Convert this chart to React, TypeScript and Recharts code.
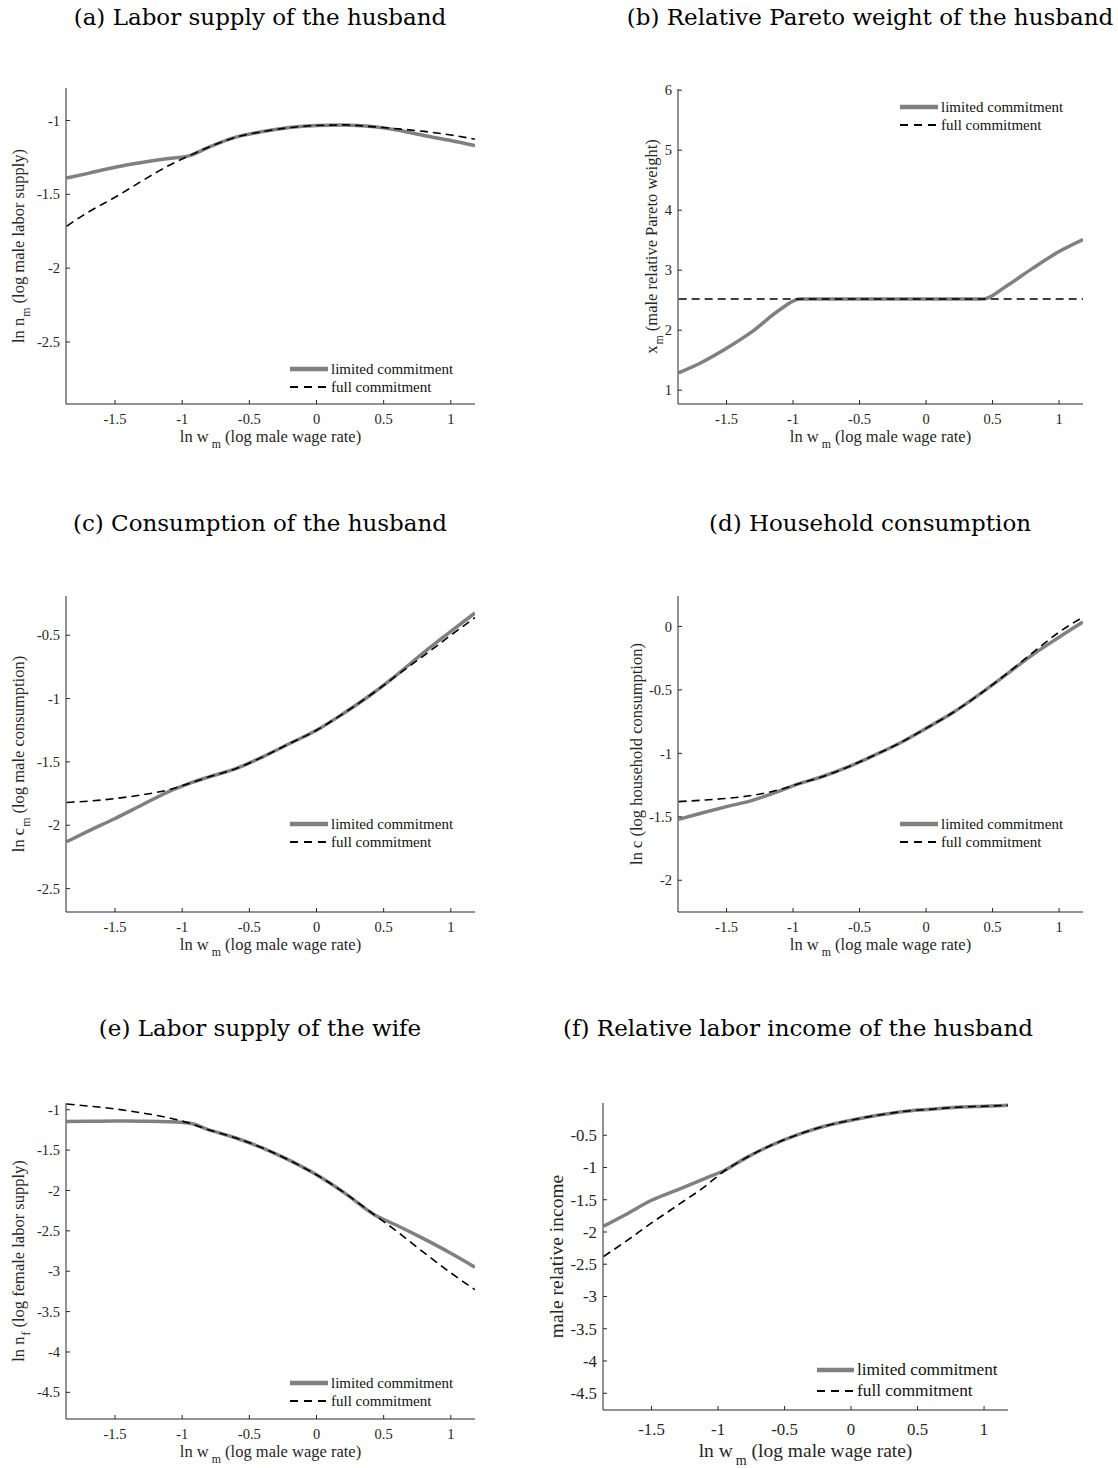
import React from 'react';
import { LineChart, Line, XAxis, YAxis, Legend, Label } from 'recharts';

// log male wage rate (shared x grid for every panel)
const wage = [-1.86, -1.7, -1.5, -1.3, -1.1, -0.95, -0.8, -0.6, -0.4, -0.2, 0, 0.2, 0.43, 0.6, 0.8, 1.0, 1.18];
const wageTicks = [-1.5, -1, -0.5, 0, 0.5, 1];

// (a) log male labor supply
const laborHusbandLimited = [-1.39, -1.358, -1.317, -1.285, -1.258, -1.24, -1.18, -1.113, -1.075, -1.048, -1.034, -1.03, -1.043, -1.065, -1.102, -1.136, -1.17];
const laborHusbandFull = [-1.716, -1.621, -1.52, -1.41, -1.305, -1.24, -1.18, -1.113, -1.075, -1.048, -1.034, -1.03, -1.043, -1.056, -1.074, -1.098, -1.127];

// (b) male relative Pareto weight
const paretoLimited = [1.29, 1.45, 1.7, 1.99, 2.34, 2.52, 2.52, 2.52, 2.52, 2.52, 2.52, 2.52, 2.52, 2.73, 3.03, 3.31, 3.51];
const paretoFull = [2.52, 2.52, 2.52, 2.52, 2.52, 2.52, 2.52, 2.52, 2.52, 2.52, 2.52, 2.52, 2.52, 2.52, 2.52, 2.52, 2.52];

// (c) log male consumption
const consHusbandLimited = [-2.13, -2.047, -1.947, -1.84, -1.734, -1.671, -1.618, -1.553, -1.46, -1.355, -1.25, -1.118, -0.95, -0.81, -0.635, -0.47, -0.324];
const consHusbandFull = [-1.82, -1.81, -1.789, -1.76, -1.72, -1.671, -1.618, -1.553, -1.46, -1.355, -1.25, -1.118, -0.95, -0.815, -0.66, -0.5, -0.36];

// (d) log household consumption
const consHouseholdLimited = [-1.52, -1.474, -1.42, -1.368, -1.295, -1.237, -1.19, -1.113, -1.02, -0.92, -0.803, -0.68, -0.513, -0.382, -0.224, -0.085, 0.035];
const consHouseholdFull = [-1.38, -1.37, -1.355, -1.33, -1.285, -1.237, -1.19, -1.113, -1.02, -0.92, -0.803, -0.68, -0.513, -0.378, -0.208, -0.045, 0.074];

// (e) log female labor supply
const laborWifeLimited = [-1.145, -1.143, -1.14, -1.142, -1.148, -1.165, -1.25, -1.35, -1.475, -1.628, -1.806, -2.02, -2.3, -2.434, -2.6, -2.777, -2.95];
const laborWifeFull = [-0.93, -0.955, -0.99, -1.04, -1.1, -1.165, -1.25, -1.35, -1.475, -1.628, -1.806, -2.02, -2.3, -2.508, -2.77, -3.02, -3.23];

// (f) male relative income
const relIncomeLimited = [-1.91, -1.736, -1.508, -1.343, -1.172, -1.043, -0.862, -0.655, -0.49, -0.36, -0.267, -0.19, -0.123, -0.097, -0.066, -0.05, -0.035];
const relIncomeFull = [-2.38, -2.155, -1.86, -1.58, -1.296, -1.05, -0.862, -0.655, -0.49, -0.36, -0.267, -0.19, -0.123, -0.097, -0.066, -0.05, -0.035];

const SERIF = '"Liberation Serif", "Times New Roman", serif';
const TITLE_FONT = '"DejaVu Serif", serif';
const INK = '#262626';
const GRAY = '#808080';

type Part = { t: string; sub?: boolean; dx?: number };
type Box = { l: number; t: number; r: number; b: number };

const ML = 75;
const MT = 15;

// renders text with MATLAB-like subscripts
function rich(parts: Part[], fs: number) {
  const shift = fs * 0.4;
  return parts.map((p, i) => {
    if (p.sub) {
      return (
        <tspan key={i} dx={p.dx ?? 1} dy={shift} fontSize={fs * 0.72}>
          {p.t}
        </tspan>
      );
    }
    const prevSub = i > 0 && parts[i - 1].sub;
    return (
      <tspan key={i} dy={prevSub ? -shift : 0}>
        {p.t}
      </tspan>
    );
  });
}

interface PanelProps {
  box: Box;
  limited: number[];
  full: number[];
  yDomain: [number, number];
  yTicks: number[];
  yLabel: Part[];
  yLabelGap: number;
  legendX: number;
  legendY: number;
  big?: boolean;
}

const Panel: React.FC<PanelProps> = ({ box, limited, full, yDomain, yTicks, yLabel, yLabelGap, legendX, legendY, big }) => {
  const data = wage.map((w, i) => ({ w, limited: limited[i], full: full[i] }));
  const plotW = box.r - box.l;
  const plotH = box.b - box.t;
  const left = box.l - ML;
  const top = box.t - MT;

  const tickFs = big ? 16.8 : 14.5;
  const labelFs = big ? 19.5 : 16.5;
  const legendFs = big ? 17.3 : 15;
  const rowH = big ? 21 : 18;
  const xLabelGap = big ? 47 : 37.5;
  const xTickMargin = big ? 17 : 14;

  const xLabel: Part[] = [{ t: 'ln w' }, { t: 'm', sub: true, dx: 3 }, { t: ' (log male wage rate)' }];

  const renderLegend = (props: any) => {
    const payload = [...(props.payload || [])].sort((a: any, b: any) =>
      a.dataKey === 'limited' ? -1 : b.dataKey === 'limited' ? 1 : 0
    );
    return (
      <div style={{ fontFamily: SERIF, fontSize: legendFs, color: '#111', whiteSpace: 'nowrap' }}>
        {payload.map((entry: any, i: number) => {
          const dashed = entry.dataKey === 'full';
          return (
            <div key={i} style={{ display: 'flex', alignItems: 'center', height: rowH }}>
              <svg width={big ? 37 : 38} height={8} style={{ display: 'block' }}>
                <line
                  x1={0}
                  y1={4}
                  x2={big ? 37 : 38}
                  y2={4}
                  stroke={dashed ? '#000' : GRAY}
                  strokeWidth={dashed ? 1.8 : 4.5}
                  strokeDasharray={dashed ? '8 6' : undefined}
                />
              </svg>
              <span style={{ marginLeft: 3 }}>{entry.value}</span>
            </div>
          );
        })}
      </div>
    );
  };

  return (
    <div style={{ position: 'absolute', left, top }}>
      <LineChart
        width={plotW + ML + 15}
        height={plotH + MT + 70}
        data={data}
        margin={{ top: MT, left: ML - 1, right: 15, bottom: 69 }}
      >
        <XAxis
          dataKey="w"
          type="number"
          domain={[-1.865, 1.18]}
          ticks={wageTicks}
          allowDataOverflow
          height={1}
          tickSize={-4}
          tickMargin={xTickMargin}
          axisLine={{ stroke: INK, strokeWidth: 1 }}
          tickLine={{ stroke: INK, strokeWidth: 1 }}
          tick={{ fontSize: tickFs, fill: INK, fontFamily: SERIF }}
        >
          <Label
            content={() => (
              <text
                x={ML + plotW / 2}
                y={MT + plotH + xLabelGap}
                textAnchor="middle"
                fontFamily={SERIF}
                fontSize={labelFs}
                fill={INK}
                style={{ whiteSpace: 'pre' }}
              >
                {rich(xLabel, labelFs)}
              </text>
            )}
          />
        </XAxis>
        <YAxis
          type="number"
          domain={yDomain}
          ticks={yTicks}
          allowDataOverflow
          width={1}
          tickSize={-4}
          tickMargin={10}
          axisLine={{ stroke: INK, strokeWidth: 1 }}
          tickLine={{ stroke: INK, strokeWidth: 1 }}
          tick={{ fontSize: tickFs, fill: INK, fontFamily: SERIF }}
        >
          <Label
            content={() => {
              const cx = ML - yLabelGap;
              const cy = MT + plotH / 2;
              return (
                <text
                  x={cx}
                  y={cy}
                  transform={`rotate(-90, ${cx}, ${cy})`}
                  textAnchor="middle"
                  fontFamily={SERIF}
                  fontSize={labelFs}
                  fill={INK}
                  style={{ whiteSpace: 'pre' }}
                >
                  {rich(yLabel, labelFs)}
                </text>
              );
            }}
          />
        </YAxis>
        <Legend
          layout="vertical"
          align="center"
          verticalAlign="middle"
          content={renderLegend}
          wrapperStyle={{ left: legendX - left, top: legendY - top, width: 'auto', height: 'auto' }}
        />
        <Line
          type="monotone"
          dataKey="limited"
          name="limited commitment"
          stroke={GRAY}
          strokeWidth={3.5}
          dot={false}
          activeDot={false}
          isAnimationActive={false}
        />
        <Line
          type="monotone"
          dataKey="full"
          name="full commitment"
          stroke="#000"
          strokeWidth={1.6}
          strokeDasharray="8 5"
          dot={false}
          activeDot={false}
          isAnimationActive={false}
        />
      </LineChart>
    </div>
  );
};

const titles = [
  { text: '(a) Labor supply of the husband', x: 260, y: 25 },
  { text: '(b) Relative Pareto weight of the husband', x: 870, y: 25 },
  { text: '(c) Consumption of the husband', x: 260, y: 531 },
  { text: '(d) Household consumption', x: 870, y: 531 },
  { text: '(e) Labor supply of the wife', x: 260, y: 1036 },
  { text: '(f) Relative labor income of the husband', x: 798, y: 1036 },
];

export default function App() {
  return (
    <div style={{ position: 'absolute', left: 0, top: 0, width: 1118, height: 1468, background: '#fff', overflow: 'hidden' }}>
      <svg width={1118} height={1468} style={{ position: 'absolute', left: 0, top: 0 }}>
        {titles.map((t) => (
          <text key={t.text} x={t.x} y={t.y} textAnchor="middle" fontFamily={TITLE_FONT} fontSize={23} fill="#000">
            {t.text}
          </text>
        ))}
      </svg>

      <Panel
        box={{ l: 66, t: 88, r: 475, b: 404 }}
        limited={laborHusbandLimited}
        full={laborHusbandFull}
        yDomain={[-2.92, -0.78]}
        yTicks={[-2.5, -2, -1.5, -1]}
        yLabel={[{ t: 'ln n' }, { t: 'm', sub: true }, { t: ' (log male labor supply)' }]}
        yLabelGap={42.5}
        legendX={290}
        legendY={360}
      />
      <Panel
        box={{ l: 678, t: 89, r: 1083, b: 404 }}
        limited={paretoLimited}
        full={paretoFull}
        yDomain={[0.77, 6.02]}
        yTicks={[1, 2, 3, 4, 5, 6]}
        yLabel={[{ t: 'x' }, { t: 'm', sub: true }, { t: ' (male relative Pareto weight)' }]}
        yLabelGap={21.5}
        legendX={900}
        legendY={98}
      />
      <Panel
        box={{ l: 66, t: 596, r: 475, b: 912 }}
        limited={consHusbandLimited}
        full={consHusbandFull}
        yDomain={[-2.685, -0.19]}
        yTicks={[-2.5, -2, -1.5, -1, -0.5]}
        yLabel={[{ t: 'ln c' }, { t: 'm', sub: true }, { t: ' (log male consumption)' }]}
        yLabelGap={42.5}
        legendX={290}
        legendY={815}
      />
      <Panel
        box={{ l: 678, t: 596, r: 1083, b: 912 }}
        limited={consHouseholdLimited}
        full={consHouseholdFull}
        yDomain={[-2.25, 0.24]}
        yTicks={[-2, -1.5, -1, -0.5, 0]}
        yLabel={[{ t: 'ln c (log household consumption)' }]}
        yLabelGap={36.5}
        legendX={900}
        legendY={815}
      />
      <Panel
        box={{ l: 66, t: 1103, r: 475, b: 1419 }}
        limited={laborWifeLimited}
        full={laborWifeFull}
        yDomain={[-4.83, -0.917]}
        yTicks={[-4.5, -4, -3.5, -3, -2.5, -2, -1.5, -1]}
        yLabel={[{ t: 'ln n' }, { t: 'f', sub: true }, { t: ' (log female labor supply)' }]}
        yLabelGap={42.5}
        legendX={290}
        legendY={1374}
      />
      <Panel
        box={{ l: 603, t: 1103, r: 1008, b: 1410 }}
        limited={relIncomeLimited}
        full={relIncomeFull}
        yDomain={[-4.76, 0]}
        yTicks={[-4.5, -4, -3.5, -3, -2.5, -2, -1.5, -1, -0.5]}
        yLabel={[{ t: 'male relative income' }]}
        yLabelGap={40}
        legendX={817}
        legendY={1359.5}
        big
      />
    </div>
  );
}
